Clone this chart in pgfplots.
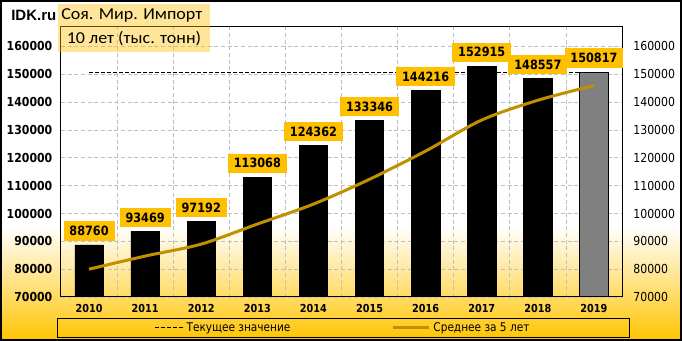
\documentclass[border=0pt]{standalone}
\usepackage{pgfplots}
\pgfplotsset{compat=1.18}
\usepackage{fontspec}
\setmainfont{DejaVu Sans}[FakeStretch=0.88]
\newfontfamily\carlito{Carlito}[FakeStretch=1.08]
\newfontfamily\libsans{Liberation Sans}
\definecolor{lblorange}{RGB}{255,192,0}
\definecolor{avgline}{RGB}{191,144,0}
\definecolor{gridgray}{RGB}{191,191,191}
\definecolor{bgyel}{RGB}{255,196,0}
\definecolor{bargray}{RGB}{128,128,128}
\begin{document}
\begin{tikzpicture}[x=0.75pt,y=0.75pt]
\path[use as bounding box] (0,0) rectangle (682,341);
\fill[white] (0,0) rectangle (682,341);
\shade[top color=white, bottom color=bgyel] (0,0) rectangle (682,115);
\begin{axis}[
  at={(45.75pt,33pt)}, anchor=south west,
  scale only axis, width=420.75pt, height=202.5pt,
  xmin=-0.5, xmax=9.5, ymin=70000, ymax=167000,
  xtick={0,...,9}, xticklabels={2010,2011,2012,2013,2014,2015,2016,2017,2018,2019},
  minor xtick={0.5,1.5,...,8.5}, xminorgrids,
  ytick={70000,80000,...,160000}, ymajorgrids,
  grid style={gridgray, dash pattern=on 3pt off 2pt, line width=0.6pt},
  minor grid style={gridgray, dash pattern=on 3pt off 2pt, line width=0.6pt},
  major tick length=0pt, minor tick length=0pt,
  tick style={draw=none},
  axis line style={black, line width=0.75pt},
  yticklabel style={font=\bfseries\fontsize{9.3}{11}\selectfont, xshift=-3pt},
  xticklabel style={font=\bfseries\fontsize{8.25}{10}\selectfont, yshift=-2pt},
  scaled y ticks=false,
  /pgf/number format/fixed,
  /pgf/number format/precision=0,
  /pgf/number format/1000 sep={},
  /pgf/number format/assume math mode=true,
  legend style={at={(0.5036,-0.1148)}, anchor=center, legend columns=2,
    draw=black, line width=0.75pt, fill=none,
    font=\fontsize{9}{10}\selectfont, inner xsep=73pt, inner ysep=0.8pt,
    /tikz/every even column/.append style={column sep=74pt}},
  legend image code/.code={\draw[#1] (0pt,0pt) -- (21pt,0pt);},
]
\addplot[black, line width=0.75pt, dash pattern=on 3pt off 1.5pt] coordinates {(0,150817) (9,150817)};
\addlegendentry{Текущее значение}
\addplot[ybar, bar shift=0pt, bar width=21.3pt, fill=black, draw=black, forget plot,
  nodes near coords,
  nodes near coords style={fill=lblorange, text=black, font=\bfseries\fontsize{9.6}{11}\selectfont, inner xsep=4.4pt, inner ysep=3.6pt, anchor=south, yshift=3pt}]
  coordinates {(0,88760) (1,93469) (2,97192) (3,113068) (4,124362) (5,133346) (6,144216) (7,152915) (8,148557)};
\addplot[ybar, bar shift=0pt, bar width=21.3pt, fill=bargray, draw=black, line width=0.75pt, forget plot,
  nodes near coords,
  nodes near coords style={fill=lblorange, text=black, font=\bfseries\fontsize{9.6}{11}\selectfont, inner xsep=4.4pt, inner ysep=3.6pt, anchor=south, yshift=3pt}]
  coordinates {(9,150817)};
\addplot[avgline, line width=2.25pt, smooth, legend image code/.code={\draw[avgline, line width=2.25pt] (0pt,0pt) -- (27pt,0pt);}] coordinates {(0,80000) (1,84700) (2,89000) (3,96200) (4,103370) (5,112287) (6,122437) (7,133581) (8,140679) (9,145970)};
\addlegendentry{Среднее за 5 лет}
\end{axis}
\begin{axis}[
  at={(45.75pt,33pt)}, anchor=south west,
  scale only axis, width=420.75pt, height=202.5pt,
  xmin=-0.5, xmax=9.5, ymin=70000, ymax=167000,
  axis x line=none, axis y line*=right,
  axis line style={draw=none},
  ytick={70000,80000,...,160000},
  major tick length=0pt, tick style={draw=none},
  yticklabel style={font=\fontsize{9.3}{11}\selectfont, xshift=5pt},
  scaled y ticks=false,
  /pgf/number format/fixed,
  /pgf/number format/precision=0,
  /pgf/number format/1000 sep={},
  /pgf/number format/assume math mode=true,
]
\addplot[draw=none] coordinates {(0,70000)};
\end{axis}
\fill[lblorange, opacity=0.4] (58,314) rectangle (210,337);
\fill[lblorange, opacity=0.4] (58,289) rectangle (210,314);
\node[anchor=west, inner sep=0pt, font=\carlito\fontsize{12.5}{14}\selectfont] at (61,325.5) {Соя. Мир. Импорт};
\node[anchor=center, inner sep=0pt, font=\carlito\fontsize{12.5}{14}\selectfont] at (134,302) {10 лет (тыс. тонн)};
\node[anchor=base west, inner sep=0pt, font=\libsans\bfseries\fontsize{11.25}{13}\selectfont] at (11,320.3) {IDK.ru};
\draw[black, line width=1.1pt] (1,1) rectangle (681,340);
\end{tikzpicture}
\end{document}
